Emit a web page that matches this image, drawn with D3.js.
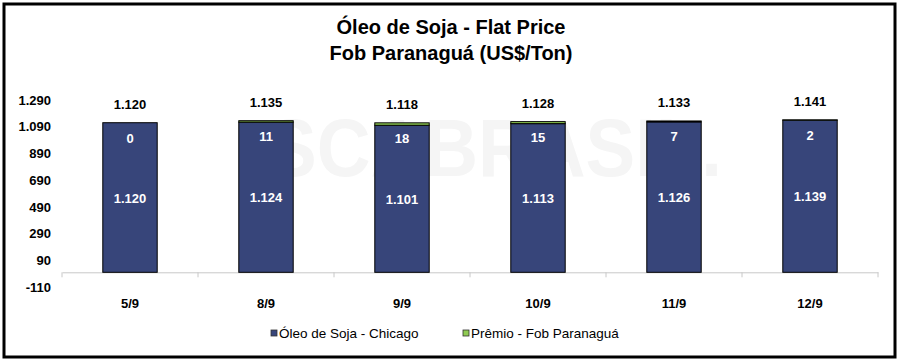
<!DOCTYPE html>
<html>
<head>
<meta charset="utf-8">
<script src="https://cdn.jsdelivr.net/npm/d3@7"></script>
<style>
  body { margin: 0; background: #fff; }
  svg text { font-family: "Liberation Sans", Arial, sans-serif; }
</style>
</head>
<body>
<svg id="chart" width="900" height="361"></svg>
<script>
// chart data
var categories = ['5/9', '8/9', '9/9', '10/9', '11/9', '12/9'];
var chicago = [1120, 1124, 1101, 1113, 1126, 1139];
var premio = [0, 11, 18, 15, 7, 2];
var totals = [1120, 1135, 1118, 1128, 1133, 1141];
var yTicks = [-110, 90, 290, 490, 690, 890, 1090, 1290];
var seriesNames = ['Óleo de Soja - Chicago', 'Prêmio - Fob Paranaguá'];

var navy = '#37457a';
var green = '#8fcb52';

var svg = d3.select('#chart');

// pt-BR number format (1.120), plain hyphen for negatives
var br = d3.formatLocale({decimal: ',', thousands: '.', grouping: [3], currency: ['', ''], minus: '-'});
var fmt = br.format(',d');

// outer frame
svg.append('rect')
    .attr('x', 4).attr('y', 4)
    .attr('width', 891).attr('height', 353)
    .attr('fill', '#fff')
    .attr('stroke', '#000')
    .attr('stroke-width', 3);

// title
svg.append('text')
    .attr('x', 451).attr('y', 34)
    .attr('text-anchor', 'middle')
    .style('font-size', '20px').style('font-weight', 'bold')
    .text('Óleo de Soja - Flat Price');
svg.append('text')
    .attr('x', 451).attr('y', 60)
    .attr('text-anchor', 'middle')
    .style('font-size', '20px').style('font-weight', 'bold')
    .text('Fob Paranaguá (US$/Ton)');

// watermark
svg.append('text')
    .attr('x', 267).attr('y', 176)
    .attr('textLength', 455)
    .attr('lengthAdjust', 'spacingAndGlyphs')
    .style('font-size', '82px').style('font-weight', 'bold')
    .attr('fill', '#f5f5f5')
    .text('SCABRASIL.');

var x = d3.scaleBand()
    .domain(categories)
    .range([62, 878])
    .paddingInner(0.6)
    .paddingOuter(0.3);

var y = d3.scaleLinear()
    .domain([-110, 1290])
    .range([287, 100]);

// y axis labels only
var yAxis = svg.append('g')
    .attr('transform', 'translate(51,0)')
    .call(d3.axisLeft(y).tickValues(yTicks).tickFormat(fmt).tickSize(0).tickPadding(0));
yAxis.select('.domain').remove();
yAxis.selectAll('text')
    .style('font-size', '13px').style('font-weight', 'bold')
    .attr('fill', '#000');

// x axis
var xAxis = svg.append('g')
    .attr('transform', 'translate(0,' + y(0) + ')')
    .call(d3.axisBottom(x).tickSize(0).tickPadding(26));
xAxis.select('.domain').attr('stroke', '#c8c8c8');
xAxis.selectAll('text')
    .style('font-size', '13px').style('font-weight', 'bold')
    .attr('fill', '#000');
// category separators
var edges = d3.range(categories.length + 1).map(function (i) { return 62 + i * 816 / categories.length; });
xAxis.selectAll('.sep')
    .data(edges)
    .enter().append('line')
    .attr('class', 'sep')
    .attr('x1', function (d) { return d; }).attr('x2', function (d) { return d; })
    .attr('y1', 0).attr('y2', 5)
    .attr('stroke', '#c8c8c8');

var idx = d3.range(categories.length);

// chicago bars
svg.append('g').selectAll('rect')
    .data(idx)
    .enter().append('rect')
    .attr('x', function (i) { return x(categories[i]); })
    .attr('width', x.bandwidth())
    .attr('y', function (i) { return y(chicago[i]); })
    .attr('height', function (i) { return y(0) - y(chicago[i]); })
    .attr('fill', navy)
    .attr('stroke', '#000')
    .attr('stroke-width', 1);

// premium bars
svg.append('g').selectAll('rect')
    .data(idx.filter(function (i) { return premio[i] > 0; }))
    .enter().append('rect')
    .attr('x', function (i) { return x(categories[i]); })
    .attr('width', x.bandwidth())
    .attr('y', function (i) { return y(chicago[i] + premio[i]); })
    .attr('height', function (i) { return y(chicago[i]) - y(chicago[i] + premio[i]); })
    .attr('fill', green)
    .attr('stroke', '#000')
    .attr('stroke-width', 1);

// labels inside bars
svg.append('g').selectAll('text')
    .data(idx)
    .enter().append('text')
    .attr('x', function (i) { return x(categories[i]) + x.bandwidth() / 2; })
    .attr('y', function (i) { return (y(chicago[i]) + y(0)) / 2 + 5; })
    .attr('text-anchor', 'middle')
    .style('font-size', '13px').style('font-weight', 'bold')
    .attr('fill', '#fff')
    .text(function (i) { return fmt(chicago[i]); });

svg.append('g').selectAll('text')
    .data(idx)
    .enter().append('text')
    .attr('x', function (i) { return x(categories[i]) + x.bandwidth() / 2; })
    .attr('y', function (i) { return y(chicago[i] + premio[i]) + 20; })
    .attr('text-anchor', 'middle')
    .style('font-size', '13px').style('font-weight', 'bold')
    .attr('fill', '#fff')
    .text(function (i) { return fmt(premio[i]); });

// totals above bars
svg.append('g').selectAll('text')
    .data(idx)
    .enter().append('text')
    .attr('x', function (i) { return x(categories[i]) + x.bandwidth() / 2; })
    .attr('y', function (i) { return y(totals[i]) - 14; })
    .attr('text-anchor', 'middle')
    .style('font-size', '13px').style('font-weight', 'bold')
    .attr('fill', '#000')
    .text(function (i) { return fmt(totals[i]); });

// legend
var legendX = [271, 463];
var legendColors = [navy, green];
var legend = svg.append('g');
seriesNames.forEach(function (name, i) {
    legend.append('rect')
        .attr('x', legendX[i]).attr('y', 330)
        .attr('width', 6).attr('height', 6)
        .attr('fill', legendColors[i])
        .attr('stroke', '#333').attr('stroke-width', 0.8);
    legend.append('text')
        .attr('x', legendX[i] + 8).attr('y', 338)
        .style('font-size', '13.5px')
        .attr('fill', '#000')
        .text(name);
});
</script>
</body>
</html>
